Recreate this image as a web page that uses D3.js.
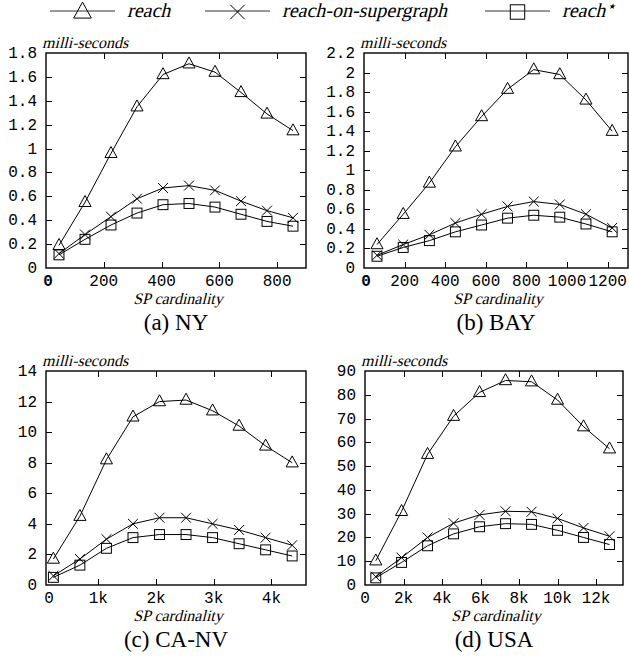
<!DOCTYPE html>
<html>
<head>
<meta charset="utf-8">
<script src="https://cdn.jsdelivr.net/npm/d3@7/dist/d3.min.js"></script>
<style>
  body { margin: 0; background: #fff; }
  svg { display: block; }
</style>
</head>
<body>
<svg id="chart" width="629" height="663"></svg>
<script>
// series names, drawn in the legend
var seriesNames = ["reach", "reach-on-supergraph", "reach*"]

// (a) NY
var xNY = [45, 135, 225, 315, 405, 495, 585, 675, 765, 855]
var reachNY = [0.19, 0.55, 0.96, 1.35, 1.62, 1.71, 1.64, 1.47, 1.29, 1.15]
var superNY = [0.12, 0.28, 0.43, 0.58, 0.67, 0.69, 0.65, 0.56, 0.48, 0.42]
var starNY = [0.11, 0.24, 0.36, 0.46, 0.53, 0.54, 0.51, 0.45, 0.39, 0.35]
var xTicksNY = [200, 400, 600, 800]
var yTicksNY = [0.2, 0.4, 0.6, 0.8, 1, 1.2, 1.4, 1.6, 1.8]

// (b) BAY
var xBAY = [64, 193, 322, 450, 579, 707, 836, 964, 1093, 1222]
var reachBAY = [0.24, 0.55, 0.87, 1.24, 1.55, 1.83, 2.03, 1.98, 1.72, 1.40]
var superBAY = [0.13, 0.24, 0.34, 0.46, 0.55, 0.63, 0.68, 0.65, 0.55, 0.41]
var starBAY = [0.12, 0.21, 0.28, 0.37, 0.44, 0.51, 0.54, 0.52, 0.45, 0.37]
var xTicksBAY = [200, 400, 600, 800, 1000, 1200]
var yTicksBAY = [0.2, 0.4, 0.6, 0.8, 1, 1.2, 1.4, 1.6, 1.8, 2, 2.2]

// (c) CA-NV
var xCANV = [220, 680, 1140, 1600, 2060, 2520, 2980, 3440, 3900, 4360]
var reachCANV = [1.7, 4.5, 8.2, 11.0, 12.0, 12.1, 11.4, 10.4, 9.1, 8.0]
var superCANV = [0.6, 1.7, 3.0, 4.0, 4.4, 4.4, 4.0, 3.6, 3.1, 2.6]
var starCANV = [0.5, 1.3, 2.4, 3.1, 3.3, 3.3, 3.1, 2.7, 2.3, 1.9]
var xTicksCANV = [1000, 2000, 3000, 4000]
var yTicksCANV = [2, 4, 6, 8, 10, 12, 14]

// (d) USA
var xUSA = [560, 1900, 3250, 4600, 5950, 7300, 8650, 10000, 11350, 12700]
var reachUSA = [10.2, 31, 55, 71, 81, 86, 85.5, 77.8, 66.6, 57.3]
var superUSA = [3.5, 11.5, 20, 26, 29.5, 31, 30.8, 28, 24, 20.5]
var starUSA = [3, 9.5, 16.5, 21.5, 24.5, 25.8, 25.5, 23, 20, 17]
var xTicksUSA = [2000, 4000, 6000, 8000, 10000, 12000]
var yTicksUSA = [10, 20, 30, 40, 50, 60, 70, 80, 90]

var svg = d3.select("#chart")
var monoFont = "'Liberation Mono', 'Courier New', monospace"
var serifFont = "'Liberation Serif', 'Times New Roman', serif"

// serif italic faked by skewing the upright face
function italicText(g, x, y, size, anchor, str){
  return g.append("text")
    .attr("transform", "translate(" + x + "," + y + ") skewX(-14)")
    .attr("text-anchor", anchor)
    .attr("font-family", serifFont).attr("font-size", size)
    .text(str)
}

// open markers, gnuplot style
function marker(g, kind, cx, cy, s){
  if(kind === 0){
    g.append("path")
      .attr("d", "M" + cx + "," + (cy - s*0.62) + "L" + (cx + s*0.55) + "," + (cy + s*0.38) + "L" + (cx - s*0.55) + "," + (cy + s*0.38) + "Z")
      .attr("fill", "none").attr("stroke", "#000").attr("stroke-width", 1)
  }else if(kind === 1){
    var h = s*0.45
    g.append("path")
      .attr("d", "M" + (cx-h) + "," + (cy-h) + "L" + (cx+h) + "," + (cy+h) + "M" + (cx+h) + "," + (cy-h) + "L" + (cx-h) + "," + (cy+h))
      .attr("fill", "none").attr("stroke", "#000").attr("stroke-width", 1)
  }else{
    var h2 = s*0.45
    g.append("rect")
      .attr("x", cx-h2).attr("y", cy-h2).attr("width", h2*2).attr("height", h2*2)
      .attr("fill", "none").attr("stroke", "#000").attr("stroke-width", 1)
  }
}

function panel(opt){
  var g = svg.append("g")
  var x = d3.scaleLinear().domain(opt.xDomain).range([opt.left, opt.right])
  var y = d3.scaleLinear().domain(opt.yDomain).range([opt.bottom, opt.top])
  var tick = 6

  // frame
  g.append("rect")
    .attr("x", opt.left).attr("y", opt.top)
    .attr("width", opt.right - opt.left).attr("height", opt.bottom - opt.top)
    .attr("fill", "none").attr("stroke", "#000").attr("stroke-width", 1.4)

  // x ticks, mirrored on top
  opt.xTicks.forEach(function(v){
    var px = Math.round(x(v)) + 0.5
    g.append("line").attr("x1", px).attr("x2", px).attr("y1", opt.bottom).attr("y2", opt.bottom - tick).attr("stroke", "#000")
    g.append("line").attr("x1", px).attr("x2", px).attr("y1", opt.top).attr("y2", opt.top + tick).attr("stroke", "#000")
    g.append("text").attr("x", x(v)).attr("y", opt.bottom + 18)
      .attr("text-anchor", "middle").attr("font-family", monoFont).attr("font-size", 16)
      .text(opt.xFormat(v))
  })
  g.append("text").attr("x", opt.left + opt.zeroShift).attr("y", opt.bottom + 18)
    .attr("text-anchor", "middle").attr("font-family", monoFont).attr("font-size", 16)
    .attr("font-weight", opt.zeroBold ? "bold" : "normal")
    .text("0")

  // y ticks, mirrored on right
  opt.yTicks.forEach(function(v){
    var py = Math.round(y(v)) + 0.5
    if(v < opt.yDomain[1]){
      g.append("line").attr("x1", opt.left).attr("x2", opt.left + tick).attr("y1", py).attr("y2", py).attr("stroke", "#000")
      g.append("line").attr("x1", opt.right).attr("x2", opt.right - tick).attr("y1", py).attr("y2", py).attr("stroke", "#000")
    }
  })
  opt.yTicks.concat([0]).forEach(function(v){
    g.append("text").attr("x", opt.left - 9).attr("y", y(v) + 5)
      .attr("text-anchor", "end").attr("font-family", monoFont).attr("font-size", 16)
      .text(d3.format("~g")(v))
  })

  // axis titles
  italicText(g, opt.left - 4, opt.top - 5, 16, "start", "milli-seconds")
  italicText(g, (opt.left + opt.right)/2 + 2, opt.bottom + 36, 16, "middle", "SP cardinality")
  g.append("text").attr("x", (opt.left + opt.right)/2).attr("y", opt.bottom + 62)
    .attr("text-anchor", "middle").attr("font-family", serifFont).attr("font-size", 23)
    .text(opt.caption)

  // series
  var line = d3.line().x(function(d){ return x(d[0]) }).y(function(d){ return y(d[1]) })
  opt.series.forEach(function(vals, k){
    var pts = opt.xs.map(function(xv, i){ return [xv, vals[i]] })
    g.append("path").datum(pts).attr("d", line)
      .attr("fill", "none").attr("stroke", "#000").attr("stroke-width", 1)
    pts.forEach(function(p){ marker(g, k, x(p[0]), y(p[1]), 11) })
  })
}

function kFormat(v){ return (v/1000) + "k" }
function plainFormat(v){ return String(v) }

panel({left: 46, right: 306, top: 53, bottom: 268, xDomain: [0, 900], yDomain: [0, 1.8],
  xTicks: xTicksNY, yTicks: yTicksNY, xFormat: plainFormat, zeroBold: true, zeroShift: 2,
  xs: xNY, series: [reachNY, superNY, starNY], caption: "(a) NY"})
panel({left: 364, right: 628, top: 53, bottom: 268, xDomain: [0, 1300], yDomain: [0, 2.2],
  xTicks: xTicksBAY, yTicks: yTicksBAY, xFormat: plainFormat, zeroBold: true, zeroShift: 2,
  xs: xBAY, series: [reachBAY, superBAY, starBAY], caption: "(b) BAY"})
panel({left: 46, right: 306, top: 371, bottom: 585, xDomain: [92, 4600], yDomain: [0, 14],
  xTicks: xTicksCANV, yTicks: yTicksCANV, xFormat: kFormat, zeroBold: false, zeroShift: 3,
  xs: xCANV, series: [reachCANV, superCANV, starCANV], caption: "(c) CA-NV"})
panel({left: 365, right: 623, top: 371, bottom: 585, xDomain: [0, 13400], yDomain: [0, 90],
  xTicks: xTicksUSA, yTicks: yTicksUSA, xFormat: kFormat, zeroBold: false, zeroShift: 0,
  xs: xUSA, series: [reachUSA, superUSA, starUSA], caption: "(d) USA"})

// legend on top
var legendX = [50, 205, 485]
var legend = svg.append("g")
seriesNames.forEach(function(name, k){
  var lx = legendX[k], ly = 11
  legend.append("line").attr("x1", lx).attr("x2", lx + 65).attr("y1", ly).attr("y2", ly)
    .attr("stroke", "#333").attr("stroke-width", 1)
  marker(legend, k, lx + 32.5, ly + 1, 16)
  if(name === "reach*"){
    var t = italicText(legend, lx + 77, ly + 6, 20, "start", "reach")
    t.append("tspan").attr("dx", 1).attr("dy", -8).attr("font-size", 8)
      .attr("font-family", "'DejaVu Sans', sans-serif").text("\u2605")
  }else{
    italicText(legend, lx + 77, ly + 6, 20, "start", name)
  }
})
</script>
</body>
</html>
